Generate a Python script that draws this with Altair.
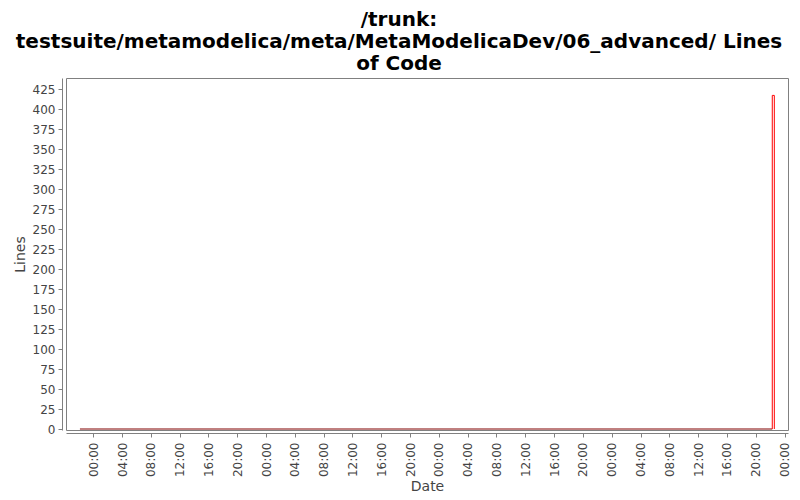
"""Lines of code chart for 06_advanced"""

import altair as alt
import pandas as pd

# values (UTC times)
base_dates = ["2008-12-31T22:09:00Z", "2009-01-04T22:18:00Z"]
base_lines = [0, 0]

loc_dates = [
    "2009-01-04T22:18:00Z",
    "2009-01-04T22:18:00Z",
    "2009-01-04T22:35:00Z",
    "2009-01-04T22:35:00Z",
]
loc_lines = [0, 417, 417, 0]

y_ticks = list(range(0, 426, 25))
# x tick positions: every 4 hours from 2009-01-01 00:00 to 2009-01-05 00:00
tick_days = [1, 2, 3, 4]
tick_hours = [0, 4, 8, 12, 16, 20]
x_start = (2008, 12, 31, 20, 13)
x_end = (2009, 1, 5, 0, 29)

TITLE = [
    "/trunk:",
    "testsuite/metamodelica/meta/MetaModelicaDev/06_advanced/ Lines",
    "of Code",
]
FONT = "DejaVu Sans"


def utc_dt(parts):
    y, mo, d, h, mi = parts
    return alt.DateTime(year=y, month=mo, date=d, hours=h, minutes=mi, utc=True)


def main():
    rows = []
    for i, (d, v) in enumerate(zip(base_dates, base_lines)):
        rows.append({"date": d, "lines": v, "series": "base", "order": i})
    for i, (d, v) in enumerate(zip(loc_dates, loc_lines)):
        rows.append({"date": d, "lines": v, "series": "loc", "order": i})
    df = pd.DataFrame(rows)

    x_ticks = [utc_dt((2009, 1, d, h, 0)) for d in tick_days for h in tick_hours]
    x_ticks.append(utc_dt((2009, 1, 5, 0, 0)))

    chart = (
        alt.Chart(df)
        .mark_line(strokeWidth=1, clip=True)
        .encode(
            x=alt.X(
                "date:T",
                title="Date",
                scale=alt.Scale(
                    type="utc", domain=[utc_dt(x_start), utc_dt(x_end)], nice=False
                ),
                axis=alt.Axis(
                    format="%H:%M",
                    values=x_ticks,
                    labelAngle=270,
                    labelAlign="right",
                    labelBaseline="middle",
                    labelPadding=5,
                    offset=3,
                    grid=False,
                    titlePadding=3,
                ),
            ),
            y=alt.Y(
                "lines:Q",
                title="Lines",
                scale=alt.Scale(domain=[-1.25, 438.75], nice=False),
                axis=alt.Axis(
                    values=y_ticks,
                    offset=4,
                    grid=False,
                    labelPadding=3,
                    titlePadding=5,
                ),
            ),
            color=alt.Color(
                "series:N",
                scale=alt.Scale(domain=["base", "loc"], range=["#800000", "#ff0000"]),
                legend=None,
            ),
            detail="series:N",
            order="order:Q",
        )
        .properties(
            width=722,
            height=352,
            autosize=alt.AutoSizeParams(type="none"),
            padding={"left": 58, "top": 70, "right": 4, "bottom": 70},
            title=alt.TitleParams(
                TITLE,
                font=FONT,
                fontSize=20,
                fontWeight="bold",
                color="#000000",
                anchor="middle",
                dx=-28,
                offset=4,
                lineHeight=22,
            ),
        )
        .configure_view(stroke="#808080", strokeWidth=1, fill="#ffffff")
        .configure_axis(
            labelFont=FONT,
            labelFontSize=12,
            labelColor="#444444",
            titleFont=FONT,
            titleFontSize=14,
            titleFontWeight="normal",
            titleColor="#444444",
            domainColor="#808080",
            tickColor="#808080",
            tickSize=4,
        )
    )

    chart.save("out.html", embed_options={"renderer": "svg", "actions": False})


if __name__ == "__main__":
    main()
